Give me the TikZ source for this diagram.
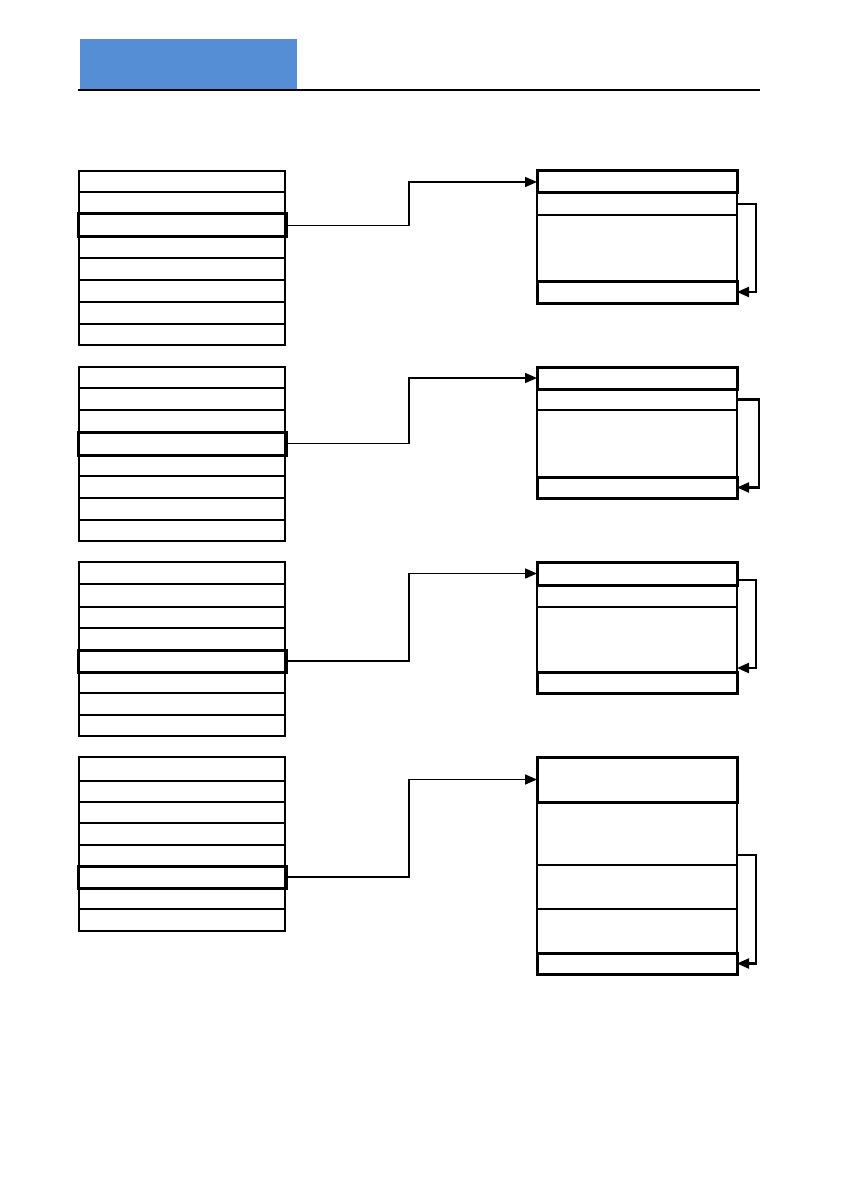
\documentclass[tikz,border=0pt]{standalone}
\usetikzlibrary{arrows.meta}
\definecolor{hdrblue}{HTML}{558ED5}
\begin{document}
\begin{tikzpicture}[x=1pt,y=-1pt,
  cell/.style={draw,line width=1.3pt,inner sep=0pt,outer sep=0pt,anchor=north west,minimum width=206pt},
  hlcell/.style={draw,line width=3pt,inner sep=0pt,outer sep=0pt,anchor=north west,minimum width=208pt},
  rcell/.style={draw,line width=1.3pt,inner sep=0pt,outer sep=0pt,anchor=north west,minimum width=200pt},
  rthick/.style={draw,line width=3pt,inner sep=0pt,outer sep=0pt,anchor=north west,minimum width=200pt},
  conn/.style={line width=1.6pt,-{Triangle[length=12pt,width=10pt]}},
  loopc/.style={line width=2.2pt,-{Triangle[length=12pt,width=10pt]}}]
\useasboundingbox (0,0) rectangle (840,1190);
% header
\node[fill=hdrblue,inner sep=0pt,minimum width=217pt,minimum height=51pt,anchor=north west] (hdr) at (80,39) {};
\coordinate (hlA) at (78,90);
\coordinate (hlB) at (760,90);
\draw[line width=1.3pt] (hlA) -- (hlB);
\coordinate (kx) at (409,0);

% ---------- group 1 ----------
\foreach \a/\b [count=\i] in {171/192,192/214,214/237,237/258,258/280,280/302,302/324,324/345}
  \node[cell,minimum height={\b-\a}] (La\i) at (79,\a) {};
\node[hlcell,minimum height=23] (Ha) at (78,214) {};
\node[rcell,minimum height=22] (Rab) at (537,193) {};
\node[rcell,minimum height=66] (Rac) at (537,215) {};
\node[rthick,minimum height=22] (Raa) at (537,171) {};
\node[rthick,minimum height=22] (Rad) at (537,281) {};
\draw[conn] (Ha.east) -- (Ha.east -| kx) |- (Raa.west);
\draw[loopc] (Rab.east) -- ++(19,0) |- (Rad.east);

% ---------- group 2 ----------
\foreach \a/\b [count=\i] in {367/388,388/410,410/432,432/455,455/476,476/498,498/520,520/541}
  \node[cell,minimum height={\b-\a}] (Lb\i) at (79,\a) {};
\node[hlcell,minimum height=23] (Hb) at (78,432) {};
\node[rcell,minimum height=21] (Rbb) at (537,389) {};
\node[rcell,minimum height=67] (Rbc) at (537,410) {};
\node[rthick,minimum height=22] (Rba) at (537,367) {};
\node[rthick,minimum height=21] (Rbd) at (537,477) {};
\draw[conn] (Hb.east) -- (Hb.east -| kx) |- (Rba.west);
\draw[loopc] (Rbb.east) -- ++(22,0) |- (Rbd.east);

% ---------- group 3 ----------
\foreach \a/\b [count=\i] in {562/584,584/607,607/628,628/650,650/672,672/693,693/715,715/736}
  \node[cell,minimum height={\b-\a}] (Lc\i) at (79,\a) {};
\node[hlcell,minimum height=22] (Hc) at (78,650) {};
\node[rcell,minimum height=22] (Rcb) at (537,585) {};
\node[rcell,minimum height=65] (Rcc) at (537,607) {};
\node[rthick,minimum height=23] (Rca) at (537,562) {};
\node[rthick,minimum height=21] (Rcd) at (537,672) {};
\draw[conn] (Hc.east) -- (Hc.east -| kx) |- (Rca.west);
\coordinate (c3s) at (737,580);
\coordinate (c3e) at (737,668);
\draw[loopc] (c3s) -- ++(19,0) |- (c3e);

% ---------- group 4 ----------
\foreach \a/\b [count=\i] in {757/781,781/802,802/823,823/845,845/866,866/888,888/909,909/931}
  \node[cell,minimum height={\b-\a}] (Ld\i) at (79,\a) {};
\node[hlcell,minimum height=22] (Hd) at (78,866) {};
\node[rcell,minimum height=63] (Rdb) at (537,802) {};
\node[rcell,minimum height=44] (Rdc) at (537,865) {};
\node[rcell,minimum height=44] (Rdx) at (537,909) {};
\node[rthick,minimum height=45] (Rda) at (537,757) {};
\node[rthick,minimum height=21] (Rdd) at (537,953) {};
\draw[conn] (Hd.east) -- (Hd.east -| kx) |- (Rda.west);
\coordinate (c4s) at (737,855);
\draw[loopc] (c4s) -- ++(19,0) |- (Rdd.east);
\end{tikzpicture}
\end{document}
